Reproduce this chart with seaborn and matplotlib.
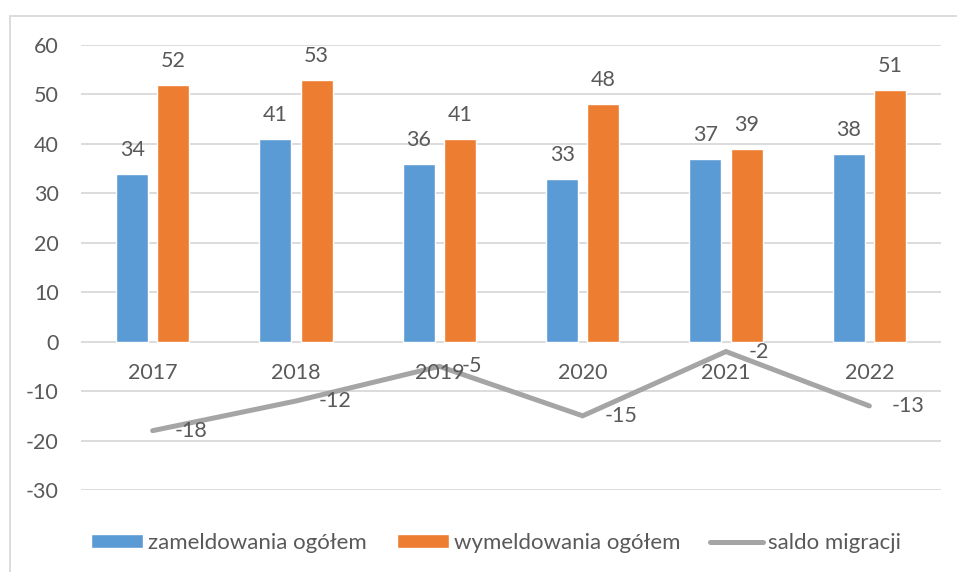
import numpy as np
import pandas as pd
import matplotlib
matplotlib.use('Agg')
import matplotlib.pyplot as plt
import seaborn as sns
from matplotlib.patches import Rectangle, Patch
from matplotlib.lines import Line2D

years = ['2017', '2018', '2019', '2020', '2021', '2022']
zameldowania = [34, 41, 36, 33, 37, 38]
wymeldowania = [52, 53, 41, 48, 39, 51]
saldo = [-18, -12, -5, -15, -2, -13]
series_names = ['zameldowania ogółem', 'wymeldowania ogółem', 'saldo migracji']
yticks = [-30, -20, -10, 0, 10, 20, 30, 40, 50, 60]

BLUE = '#5B9BD5'
ORANGE = '#ED7D31'
GRAY = '#A5A5A5'
TEXT = '#595959'
GRID = '#D9D9D9'
FS = 15.5

sns.set_style('white')
plt.rcParams['font.family'] = ['Lato', 'DejaVu Sans']
plt.rcParams['font.size'] = FS
plt.rcParams['axes.unicode_minus'] = False

df = pd.DataFrame({
    'rok': years * 2,
    'wartosc': zameldowania + wymeldowania,
    'seria': [series_names[0]] * len(years) + [series_names[1]] * len(years),
})

fig = plt.figure(figsize=(9.57, 5.72), dpi=100)
ax = fig.add_axes([81 / 957, 1 - 490 / 572, 860 / 957, 445 / 572])

sns.barplot(data=df, x='rok', y='wartosc', hue='seria', order=years,
            hue_order=series_names[:2], palette=[BLUE, ORANGE],
            width=0.573, gap=0.22, saturation=1, ax=ax, legend=False)
sns.lineplot(x=np.arange(len(years)), y=saldo, color=GRAY, linewidth=3.6,
             ax=ax, legend=False)
ax.lines[-1].set_solid_capstyle('round')
ax.lines[-1].set_solid_joinstyle('miter')

for cont in ax.containers:
    ax.bar_label(cont, padding=10, color=TEXT, fontsize=FS)

for i, v in enumerate(saldo):
    ax.annotate(str(v), xy=(i, v), xytext=(16, 0), textcoords='offset points',
                ha='left', va='center', color=TEXT, fontsize=FS)

for i, y in enumerate(years):
    ax.annotate(y, xy=(i, 0), xytext=(0, -22.5), textcoords='offset points',
                ha='center', va='center', color=TEXT, fontsize=FS)

ax.set_xlim(-0.5, len(years) - 0.5)
ax.set_ylim(-30, 60)
ax.set_yticks(yticks)
ax.set_xticks([])
ax.set_xlabel('')
ax.set_ylabel('')
ax.tick_params(axis='y', length=0, pad=16, labelcolor=TEXT, labelsize=FS)
ax.grid(axis='y', color=GRID, linewidth=1.3)
ax.set_axisbelow(True)
for s in ax.spines.values():
    s.set_visible(False)

handles = [Patch(facecolor=BLUE), Patch(facecolor=ORANGE),
           Line2D([], [], color=GRAY, linewidth=3.6, solid_capstyle='round')]
fig.legend(handles, series_names, loc='center', bbox_to_anchor=(0.518, 1 - 543 / 572),
           ncol=3, frameon=False, handlelength=2.35, handleheight=0.6,
           handletextpad=0.22, columnspacing=1.35, labelcolor=TEXT, fontsize=16)

fig.patches.append(Rectangle((10 / 957, -0.1), 1.2, 1.1 - 16 / 572,
                             transform=fig.transFigure, fill=False,
                             edgecolor=GRID, linewidth=1.3))

fig.savefig('out.png', dpi=100)
